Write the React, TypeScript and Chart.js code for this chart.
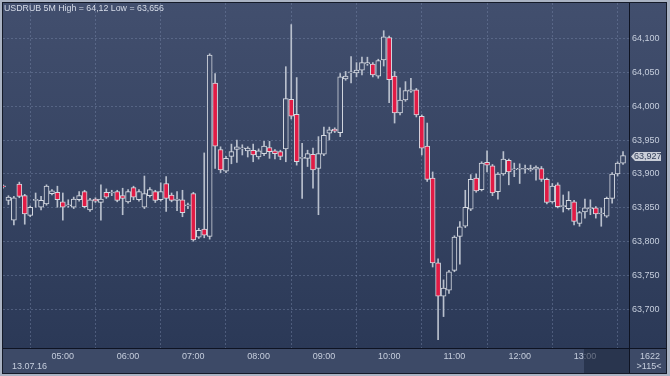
import React, { useEffect, useRef } from 'react';
import { Chart, registerables } from 'chart.js';

Chart.register(...registerables);

const titleText = 'USDRUB 5M High = 64,12 Low = 63,656';
const dateLabel = '13.07.16';
const barsTotal = '1622';
const barsVisible = '>115<';
const firstBarMinutes = 4 * 60 + 5; // 04:05, 5-minute bars
const hourLabels = ['05:00', '06:00', '07:00', '08:00', '09:00', '10:00', '11:00', '12:00', '13:00'];
const priceTicks = [63.7, 63.75, 63.8, 63.85, 63.9, 63.95, 64.0, 64.05, 64.1];

const opens = [
  63.882, 63.861, 63.832, 63.885, 63.868, 63.839, 63.861, 63.851, 63.856, 63.871,
  63.873, 63.859, 63.853, 63.851, 63.862, 63.874, 63.847, 63.863, 63.858, 63.873,
  63.872, 63.874, 63.868, 63.859, 63.880, 63.862, 63.851, 63.868, 63.874, 63.862,
  63.886, 63.869, 63.861, 63.862, 63.853, 63.871, 63.807, 63.819, 63.808, 64.034,
  63.936, 63.904, 63.926, 63.936, 63.937, 63.934, 63.935, 63.925, 63.930, 63.939,
  63.934, 63.933, 63.937, 64.010, 63.988, 63.923, 63.923, 63.929, 63.908, 63.929,
  63.960, 63.966, 63.961, 64.040, 64.049, 64.049, 64.053, 64.062, 64.062, 64.044,
  64.068, 64.101, 64.044, 63.990, 64.009, 64.022, 64.024, 63.985, 63.941, 63.894,
  63.769, 63.720, 63.729, 63.758, 63.808, 63.823, 63.848, 63.894, 63.877, 63.917,
  63.912, 63.874, 63.900, 63.920, 63.906, 63.907, 63.907, 63.906, 63.907, 63.908,
  63.892, 63.859, 63.884, 63.852, 63.849, 63.859, 63.827, 63.844, 63.849, 63.850,
  63.841, 63.838, 63.864, 63.900, 63.916,
];
const highs = [
  63.884, 63.868, 63.867, 63.888, 63.870, 63.853, 63.872, 63.867, 63.884, 63.877,
  63.882, 63.872, 63.862, 63.866, 63.874, 63.876, 63.864, 63.865, 63.884, 63.878,
  63.876, 63.876, 63.879, 63.877, 63.882, 63.877, 63.897, 63.880, 63.876, 63.887,
  63.896, 63.872, 63.874, 63.876, 63.857, 63.873, 63.820, 63.931, 64.077, 64.048,
  63.940, 63.926, 63.944, 63.950, 63.943, 63.940, 63.944, 63.937, 63.948, 63.948,
  63.936, 63.935, 64.058, 64.120, 64.042, 63.945, 63.935, 63.938, 63.955, 63.969,
  63.969, 63.968, 64.048, 64.051, 64.073, 64.064, 64.072, 64.072, 64.064, 64.069,
  64.111, 64.103, 64.051, 64.027, 64.036, 64.041, 64.026, 63.987, 63.975, 63.903,
  63.775, 63.744, 63.758, 63.809, 63.830, 63.876, 63.899, 63.900, 63.918, 63.934,
  63.914, 63.902, 63.933, 63.922, 63.916, 63.915, 63.913, 63.913, 63.912, 63.911,
  63.894, 63.886, 63.887, 63.869, 63.874, 63.861, 63.845, 63.863, 63.862, 63.852,
  63.850, 63.866, 63.902, 63.918, 63.933,
];
const lows = [
  63.879, 63.855, 63.825, 63.865, 63.826, 63.837, 63.851, 63.847, 63.854, 63.869,
  63.851, 63.832, 63.851, 63.849, 63.860, 63.850, 63.845, 63.858, 63.832, 63.864,
  63.868, 63.859, 63.840, 63.857, 63.862, 63.860, 63.849, 63.866, 63.858, 63.860,
  63.845, 63.859, 63.846, 63.837, 63.849, 63.801, 63.805, 63.806, 63.804, 63.908,
  63.902, 63.902, 63.915, 63.917, 63.928, 63.925, 63.918, 63.922, 63.927, 63.923,
  63.922, 63.921, 63.918, 63.981, 63.913, 63.864, 63.911, 63.879, 63.840, 63.927,
  63.950, 63.961, 63.955, 64.038, 64.034, 64.043, 64.046, 64.060, 64.043, 64.041,
  64.059, 64.005, 63.975, 63.987, 64.007, 64.020, 63.984, 63.928, 63.889, 63.763,
  63.656, 63.690, 63.724, 63.756, 63.767, 63.821, 63.846, 63.873, 63.875, 63.903,
  63.868, 63.863, 63.898, 63.884, 63.896, 63.886, 63.901, 63.904, 63.891, 63.889,
  63.856, 63.857, 63.850, 63.844, 63.847, 63.825, 63.823, 63.835, 63.840, 63.835,
  63.823, 63.836, 63.857, 63.897, 63.914,
];
const closes = [
  63.881, 63.866, 63.865, 63.867, 63.841, 63.851, 63.861, 63.861, 63.882, 63.875,
  63.862, 63.851, 63.853, 63.863, 63.868, 63.852, 63.862, 63.860, 63.863, 63.866,
  63.872, 63.861, 63.864, 63.874, 63.866, 63.874, 63.871, 63.877, 63.861, 63.874,
  63.864, 63.861, 63.863, 63.843, 63.853, 63.803, 63.817, 63.810, 64.075, 63.941,
  63.906, 63.923, 63.933, 63.940, 63.937, 63.938, 63.928, 63.934, 63.941, 63.933,
  63.930, 63.926, 64.011, 63.985, 63.918, 63.923, 63.930, 63.906, 63.930, 63.957,
  63.965, 63.963, 64.043, 64.044, 64.049, 64.053, 64.064, 64.064, 64.046, 64.067,
  64.102, 64.039, 63.990, 64.009, 64.023, 64.024, 63.987, 63.938, 63.892, 63.769,
  63.720, 63.732, 63.756, 63.807, 63.822, 63.851, 63.892, 63.875, 63.916, 63.913,
  63.872, 63.900, 63.922, 63.903, 63.906, 63.907, 63.907, 63.908, 63.910, 63.892,
  63.858, 63.882, 63.852, 63.852, 63.861, 63.830, 63.843, 63.850, 63.849, 63.841,
  63.841, 63.864, 63.900, 63.916, 63.927,
];

const pad2 = (n: number) => (n < 10 ? '0' : '') + n;
const times = opens.map((_, i) => {
  const m = firstBarMinutes + 5 * i;
  return pad2(Math.floor(m / 60)) + ':' + pad2(m % 60);
});
const hourIndex = hourLabels.map((h) => times.indexOf(h));
const fmtPrice = (v: number) => v.toFixed(3).replace('.', ',');

const FONT = '"Liberation Sans", Arial, sans-serif';
const TXT = '#c6cedd';
const RED = '#e11b45';

function plotGradient(ctx: CanvasRenderingContext2D, top: number, bottom: number) {
  const g = ctx.createLinearGradient(0, top, 0, bottom);
  g.addColorStop(0, '#424f6e');
  g.addColorStop(1, '#2b3957');
  return g;
}

const decor = {
  id: 'decor',
  beforeDraw(chart: any) {
    const { ctx, width, height, chartArea: a } = chart;
    ctx.save();
    ctx.fillStyle = plotGradient(ctx, 0, a.bottom);
    ctx.fillRect(0, 0, width, a.bottom);
    ctx.fillStyle = '#3d4a67';
    ctx.fillRect(0, a.bottom, width, height - a.bottom);
    ctx.restore();
  },
  afterDraw(chart: any) {
    const { ctx, width, height, chartArea: a } = chart;
    const y = chart.scales.y;
    ctx.save();
    ctx.fillStyle = 'rgba(26,36,58,0.55)';
    ctx.fillRect(584, a.bottom + 1, a.right - 584, height - a.bottom - 3);
    ctx.strokeStyle = '#0e1322';
    ctx.lineWidth = 1;
    ctx.beginPath();
    ctx.moveTo(a.right + 0.5, 0);
    ctx.lineTo(a.right + 0.5, height);
    ctx.moveTo(0, a.bottom + 0.5);
    ctx.lineTo(width, a.bottom + 0.5);
    ctx.stroke();
    ctx.fillStyle = '#aab3c3';
    ctx.fillRect(0, 0, width, 2);
    ctx.fillRect(0, height - 2, width, 2);
    ctx.fillRect(0, 0, 2, height);
    ctx.fillRect(width - 3, 0, 3, height);
    ctx.strokeStyle = '#141a28';
    ctx.strokeRect(2.5, 2.5, width - 6, height - 5);
    ctx.fillStyle = '#d6dce8';
    ctx.font = '8.8px ' + FONT;
    ctx.textBaseline = 'middle';
    ctx.textAlign = 'left';
    ctx.fillText(titleText, 4, 8.5);
    ctx.font = '9px ' + FONT;
    ctx.fillStyle = TXT;
    ctx.fillText(dateLabel, 12, 367);
    ctx.textAlign = 'center';
    ctx.fillText(barsTotal, 650, 356.5);
    ctx.fillText(barsVisible, 649, 367);
    const last = closes[closes.length - 1];
    const py = Math.round(y.getPixelForValue(last)) + 0.5;
    ctx.fillStyle = '#c9ced8';
    ctx.beginPath();
    ctx.moveTo(631, py);
    ctx.lineTo(635, py - 4.5);
    ctx.lineTo(661, py - 4.5);
    ctx.lineTo(661, py + 4.5);
    ctx.lineTo(635, py + 4.5);
    ctx.closePath();
    ctx.fill();
    ctx.fillStyle = '#34405a';
    ctx.textAlign = 'left';
    ctx.fillText(fmtPrice(last), 634, py);
    ctx.restore();
  },
};

export default function App() {
  const ref = useRef<HTMLCanvasElement>(null);
  useEffect(() => {
    const canvas = ref.current;
    if (!canvas) return;
    let upFill: any = null;
    const bodyColor = (c: any) => {
      const i = c.dataIndex;
      if (closes[i] < opens[i]) return RED;
      const a = c.chart.chartArea;
      if (!a) return '#35435f';
      if (!upFill) upFill = plotGradient(c.chart.ctx, 0, a.bottom);
      return upFill;
    };
    const noPad = (s: any) => {
      s.paddingTop = 0;
      s.paddingBottom = 0;
      s.paddingLeft = 0;
      s.paddingRight = 0;
    };
    const chart = new Chart(canvas, {
      type: 'bar',
      data: {
        datasets: [
          {
            label: 'body',
            order: 0,
            data: opens.map((o, i) => ({ x: i, y: [o, closes[i]] })) as any,
            backgroundColor: bodyColor as any,
            borderColor: '#d4d8e0',
            borderWidth: 1,
            borderSkipped: false,
            barThickness: 5,
            minBarLength: 1,
            grouped: false,
            clip: 0,
          } as any,
          {
            label: 'wick',
            order: 1,
            data: highs.map((h, i) => ({ x: i, y: [lows[i], h] })) as any,
            backgroundColor: '#b9c0cd',
            borderWidth: 0,
            barThickness: 1,
            grouped: false,
            clip: 0,
          } as any,
        ],
      },
      options: {
        animation: false,
        responsive: false,
        devicePixelRatio: 1,
        events: [],
        layout: { padding: { left: 3, top: 3, right: 0, bottom: 0 } },
        plugins: { legend: { display: false }, tooltip: { enabled: false } },
        scales: {
          x: {
            type: 'linear',
            position: 'bottom',
            min: 0,
            max: 115.1,
            offset: false,
            afterBuildTicks: (s: any) => {
              s.ticks = hourIndex.map((v) => ({ value: v }));
            },
            afterFit: (s: any) => {
              s.height = 28;
              noPad(s);
            },
            ticks: {
              autoSkip: false,
              maxRotation: 0,
              padding: 3,
              color: TXT,
              font: { family: FONT, size: 9 },
              callback: (v: any) => times[v as number],
            },
            grid: { color: 'rgba(120,136,168,0.45)', drawTicks: false },
            border: { display: false, dash: [2, 2] },
          },
          y: {
            type: 'linear',
            position: 'right',
            min: 63.6437,
            max: 64.1518,
            afterBuildTicks: (s: any) => {
              s.ticks = priceTicks.map((v) => ({ value: v }));
            },
            afterFit: (s: any) => {
              s.width = 41;
              noPad(s);
            },
            ticks: {
              padding: 3,
              color: TXT,
              font: { family: FONT, size: 9 },
              callback: (v: any) => fmtPrice(v as number),
            },
            grid: { color: 'rgba(120,136,168,0.45)', drawTicks: false },
            border: { display: false, dash: [2, 2] },
          },
        },
      },
      plugins: [decor],
    } as any);
    return () => chart.destroy();
  }, []);
  return (
    <div style={{ position: 'absolute', left: 0, top: 0, width: 670, height: 376 }}>
      <canvas ref={ref} width={670} height={376} style={{ display: 'block', width: 670, height: 376 }} />
    </div>
  );
}
